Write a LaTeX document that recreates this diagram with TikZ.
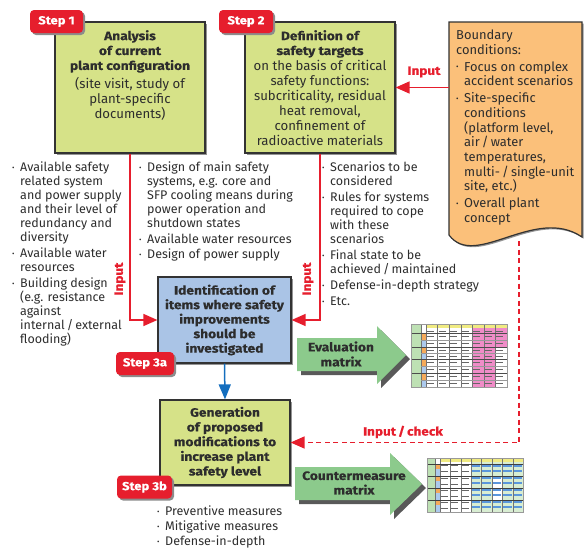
\documentclass[tikz,border=0pt]{standalone}
\usepackage{fontspec}
\setmainfont{Fira Sans}[BoldFeatures={FakeStretch=1.13,FakeBold=0.4}]
\usetikzlibrary{arrows.meta,shadows,calc}
\definecolor{boxgreen}{RGB}{214,226,136}
\definecolor{boxblue}{RGB}{170,196,230}
\definecolor{boxorange}{RGB}{251,192,122}
\definecolor{stepred}{RGB}{230,30,45}
\definecolor{arrgreen}{RGB}{140,202,140}
\definecolor{txt}{RGB}{45,45,45}
\definecolor{darrblue}{RGB}{20,110,190}
\definecolor{tgreen}{RGB}{190,225,180}
\definecolor{tpink}{RGB}{240,140,200}
\definecolor{tyellow}{RGB}{240,235,130}
\definecolor{tblue}{RGB}{90,150,220}
\definecolor{torange}{RGB}{245,170,90}
\newcommand\bu{\makebox[8pt][l]{\raisebox{1.3pt}{\scalebox{0.6}{•}}}}
\newcommand\ind{\hspace*{8pt}}
\newcommand\bt[1]{{\fontsize{12.2}{14.5}\selectfont\bfseries #1}}
\begin{document}
\begin{tikzpicture}[x=1pt,y=-1pt,
  font=\fontsize{12.5}{14}\selectfont, text=txt,
  box/.style={draw=black!80, line width=1.2pt, inner sep=0pt,
    drop shadow={shadow xshift=1.5pt, shadow yshift=-1.5pt, fill=black!60, opacity=0.7}},
  steptag/.style={fill=stepred, text=white, font=\fontsize{11.5}{13}\selectfont\bfseries,
    rounded corners=4pt, minimum height=23pt, inner sep=0pt,
    drop shadow={shadow xshift=2pt, shadow yshift=-2pt, fill=black!45, opacity=1}},
  boxtext/.style={align=center, inner sep=0pt, anchor=north, font=\fontsize{13.2}{14.9}\selectfont},
  lst/.style={align=left, inner sep=0pt, anchor=north west},
  redarr/.style={draw=stepred, line width=1.5pt, -{Triangle[length=14pt,width=12pt]}},
  inlabel/.style={text=stepred, font=\fontsize{12}{13}\selectfont\bfseries, inner sep=0pt},
  bigarrow/.style={fill=arrgreen},
  arrshadow/.style={fill=black!65},
]
\useasboundingbox (0,0) rectangle (587,552);

% ---------- Step 1 ----------
\node[box, fill=boxgreen, minimum width=150pt, minimum height=131pt] (s1) at (130,87.5) {};
\node[boxtext] (s1t) at (130,30) {\bt{Analysis}\\ \bt{of current}\\ \bt{plant configuration}\\[3.5pt]
  (site visit, study of\\ plant-specific\\ documents)};
\node[steptag, minimum width=53pt] (tag1) at (56.5,21.5) {Step 1};

% ---------- Step 2 ----------
\node[box, fill=boxgreen, minimum width=150pt, minimum height=131pt] (s2) at (320,87.5) {};
\node[boxtext] (s2t) at (320,30) {\bt{Definition of}\\ \bt{safety targets}\\[1pt]
  on the basis of critical\\ safety functions:\\ subcriticality, residual\\ heat removal,\\ confinement of\\ radioactive materials};
\node[steptag, minimum width=54pt] (tag2) at (246,21.5) {Step 2};

% ---------- Boundary conditions ----------
\draw[draw=black!80, line width=1.2pt, fill=boxorange,
  drop shadow={shadow xshift=1.5pt, shadow yshift=-1.5pt, fill=black!60, opacity=0.7}]
  (449,22) -- (582,22) -- (582,237) .. controls (535,205) and (475,270) .. (449,235) -- cycle;
\node[lst, font=\fontsize{12.9}{14.7}\selectfont] (bct) at (456,30) {Boundary\\ conditions:\\[2pt]
  \bu Focus on complex\\ \ind accident scenarios\\[2pt]
  \bu Site-specific\\ \ind conditions\\ \ind (platform level,\\ \ind air\,/\,water\\ \ind temperatures,\\
  \ind multi-\,/\,single-unit\\ \ind site, etc.)\\[2pt]
  \bu Overall plant\\ \ind concept};
\coordinate (bcw) at (449,87.5);
\coordinate (bcb) at (519,241);

% Input arrow to step 2
\draw[redarr] (bcw) -- (s2.east);
\node[inlabel] (in0) at (424,72) {Input};

% ---------- Lists ----------
\node[lst] (l1) at (12,162) {\bu Available safety\\ \ind related system\\ \ind and power supply\\
  \ind and their level of\\ \ind redundancy and\\ \ind diversity\\[2pt]
  \bu Available water\\ \ind resources\\[2pt]
  \bu Building design\\ \ind (e.g. resistance\\ \ind against\\ \ind internal\,/\,external\\ \ind flooding)};
\node[lst] (l2) at (139,162) {\bu Design of main safety\\ \ind systems, e.g. core and\\
  \ind SFP cooling means during\\ \ind power operation and\\ \ind shutdown states\\[2pt]
  \bu Available water resources\\[1pt]
  \bu Design of power supply};
\node[lst] (l3) at (322,162) {\bu Scenarios to be\\ \ind considered\\[2pt]
  \bu Rules for systems\\ \ind required to cope\\ \ind with these\\ \ind scenarios\\[2pt]
  \bu Final state to be\\ \ind achieved\,/\,maintained\\[2pt]
  \bu Defense-in-depth strategy\\[2pt]
  \bu Etc.};

% ---------- Step 3a ----------
\node[box, fill=boxblue, minimum width=133pt, minimum height=86pt, align=center,
  font=\fontsize{12.2}{14.5}\selectfont\bfseries] (s3a) at (224.5,320)
  {Identification of\\ items where safety\\ improvements\\ should be\\ investigated};
\node[steptag, minimum width=58pt] (tag3a) at (145,363.5) {Step 3a};

\draw[redarr] (s1.south) |- (s3a.west);
\draw[redarr] (s2.south) |- (s3a.east);
\node[inlabel, rotate=90] (in1) at (120,279) {Input};
\node[inlabel, rotate=90] (in2) at (308,279) {Input};

% ---------- Step 3b ----------
\node[box, fill=boxgreen, minimum width=130pt, minimum height=85pt, align=center,
  font=\fontsize{12.2}{14.7}\selectfont\bfseries] (s3b) at (225,442.5)
  {Generation\\ of proposed\\ modifications to\\ increase plant\\ safety level};
\node[steptag, minimum width=55pt] (tag3b) at (144.5,487) {Step 3b};

\draw[draw=darrblue, line width=1.5pt, -{Triangle[length=15pt,width=12pt]}] (s3a.south) -- (s3b.north);

% dashed input/check
\draw[redarr, dash pattern=on 5pt off 3.5pt] (bcb) |- (s3b.east);
\node[inlabel] (in3) at (403,432) {Input\,/\,check};

\node[lst] (l4) at (157,506) {\bu Preventive measures\\[1pt] \bu Mitigative measures\\[1pt] \bu Defense-in-depth};

% ---------- Evaluation matrix arrow ----------
\fill[arrshadow] (301,342) -- (381,342) -- (381,330) -- (410,359) -- (381,388) -- (381,375) -- (301,375) -- cycle;
\fill[bigarrow] (297,338) -- (377,338) -- (377,326) -- (406,355) -- (377,384) -- (377,371) -- (297,371) -- cycle;
\node[align=center, font=\fontsize{12.2}{15}\selectfont\bfseries, inner sep=0pt] (evl) at (341,354) {Evaluation\\ matrix};

% ---------- Countermeasure matrix arrow ----------
\fill[arrshadow] (299,471) -- (394,471) -- (394,457) -- (426,488) -- (394,519) -- (394,504) -- (299,504) -- cycle;
\fill[bigarrow] (295,467) -- (390,467) -- (390,453) -- (422,484) -- (390,515) -- (390,500) -- (295,500) -- cycle;
\node[align=center, font=\fontsize{12.2}{14.5}\selectfont\bfseries, inner sep=0pt] (cml) at (354,483) {Countermeasure\\ matrix};

% ---------- Evaluation matrix table ----------
\begin{scope}
  \fill[white] (411,324) rectangle (507,387);
  \fill[tgreen] (411,324) rectangle (421,387);
  \fill[tyellow] (426,324) rectangle (507,328);
  \fill[tpink] (472.3,328) rectangle (495.4,387);
  \fill[tpink] (495.4,328) rectangle (507,347);
  \foreach \a/\b in {333/340,347/353,359/366,373/380}{
    \fill[torange] (421,\a) rectangle (426,\b);
  }
  \foreach \a/\b in {340/347,353/359,366/373,380/387}{
    \fill[tblue!50] (421,\a) rectangle (426,\b);
  }
  \foreach \k in {0,...,6}{
    \foreach \yy in {331,336,343,350,356,362,369,376,383}{
      \draw[black!60, line width=0.4pt] ({427+\k*11.57},\yy) -- ({427+\k*11.57+7},\yy);
    }
  }
  \foreach \k in {0,...,7}{
    \draw[black!55, line width=0.4pt] ({426+\k*11.57},324) -- ({426+\k*11.57},387);
  }
  \draw[black!55, line width=0.4pt] (421,324) -- (421,387);
  \foreach \yy in {333,347,359,373}{
    \draw[black!70, line width=0.5pt] (411,\yy) -- (507,\yy);
  }
  \foreach \yy in {340,353,366,380}{
    \draw[black!40, line width=0.3pt] (421,\yy) -- (507,\yy);
  }
  \draw[black!40, line width=0.4pt] (411,324) rectangle (507,387);
\end{scope}

% ---------- Countermeasure matrix table ----------
\begin{scope}
  \fill[white] (427,458) rectangle (523,512);
  \fill[tgreen] (427,458) rectangle (435,512);
  \fill[tyellow] (440,458) rectangle (523,462);
  \foreach \k in {3,...,7}{
    \fill[tgreen!60] ({440+\k*10.4},462) rectangle ({440+\k*10.4+10.4},512);
  }
  \fill[white] ({440+5*10.4},478) rectangle ({440+6*10.4},500);
  \foreach \a/\b in {464/469,476/481,488/493,500/505}{
    \fill[torange] (435,\a) rectangle (440,\b);
  }
  \foreach \a/\b in {469/476,481/488,493/500,505/512}{
    \fill[tblue!50] (435,\a) rectangle (440,\b);
  }
  \foreach \k in {3,...,7}{
    \foreach \yy in {465,470,477,482,489,494,501,506}{
      \fill[tblue] ({440+\k*10.4+0.8},\yy) rectangle ({440+\k*10.4+9.2},{\yy+1.6});
    }
  }
  \foreach \k in {0,...,2}{
    \foreach \yy in {465,471,478,484,490,496,502,508}{
      \draw[black!60, line width=0.4pt] ({440+\k*10.4+1},\yy) -- ({440+\k*10.4+8},\yy);
    }
  }
  \foreach \k in {0,...,8}{
    \draw[black!55, line width=0.4pt] ({440+\k*10.4},458) -- ({440+\k*10.4},512);
  }
  \draw[black!55, line width=0.4pt] (435,458) -- (435,512);
  \foreach \yy in {464,476,488,500}{
    \draw[black!75, line width=0.6pt] (427,\yy) -- (523,\yy);
  }
  \draw[black!40, line width=0.4pt] (427,458) rectangle (523,512);
\end{scope}
\end{tikzpicture}
\end{document}
